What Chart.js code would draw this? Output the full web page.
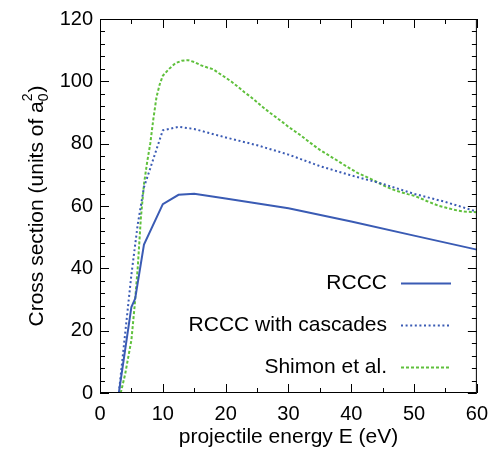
<!DOCTYPE html>
<html>
<head>
<meta charset="utf-8">
<script src="https://cdn.jsdelivr.net/npm/chart.js@4"></script>
<style>
  html, body { margin: 0; padding: 0; background: #fff; }
  #wrap { width: 497px; height: 459px; }
</style>
</head>
<body>
<div id="wrap"><canvas id="chart" width="497" height="459"></canvas></div>
<script>
// Dados
const energiaRccc = [3, 5, 5.6, 7, 10, 12.5, 15, 20, 30, 40, 50, 60];
const secaoRccc = [0, 27.6, 30.3, 47.6, 60.6, 63.6, 63.9, 62.4, 59.3, 55, 50.5, 46];

const energiaCascatas = [3, 5, 6, 7, 10, 12.5, 15, 20, 25, 30, 35, 40, 45, 50, 55, 60];
const secaoCascatas = [0, 38, 54, 66, 84.3, 85.4, 84.7, 82, 79.5, 76.5, 72.8, 69.8, 67.1, 63.9, 61.3, 58.2];

const energiaShimon = [3.3, 4, 5, 5.5, 6, 6.5, 7, 7.5, 8, 8.5, 9, 9.5, 10, 11, 12, 13, 14, 15, 16, 17, 18, 19, 20,
  21, 22, 23, 24, 25, 26, 27, 28, 29, 30, 31, 32, 33, 34, 35, 36, 37, 38, 39, 40,
  41, 42, 43, 44, 45, 46, 47, 48, 49, 50, 51, 52, 53, 54, 55, 56, 57, 58, 59, 60];
const secaoShimon = [0, 6, 17, 27.6, 40, 56, 67, 74, 80, 88, 95, 99, 101.8, 104, 105.8, 106.6, 106.8, 106.2, 105.2, 104.5, 103.9, 102.5, 101.2,
  99.8, 98.2, 96.5, 95, 93.3, 91.6, 90, 88.5, 87, 85.4, 84, 82.6, 81, 79.5, 78, 76.8, 75.5, 74.3, 73, 71.8,
  70.6, 69.7, 68.8, 67.8, 66.7, 65.8, 65, 64.4, 63.8, 63.3, 62.5, 61.6, 60.8, 60, 59.5, 59, 58.5, 58.2, 58.1, 58];

const rotulos = ["RCCC", "RCCC with cascades", "Shimon et al."];
const xMin = 0, xMax = 60, xPasso = 10, xMenor = 5;
const yMin = 0, yMax = 120, yPasso = 20, yMenor = 4;

const AZUL = "#3a5bb4";
const VERDE = "#5fc03c";
const FONTE = "'Liberation Sans', Arial, sans-serif";

function pares(xs, ys) {
  return xs.map((x, i) => ({ x: x, y: ys[i] }));
}

// Moldura, ticks para dentro, título do eixo y e legenda (estilo gnuplot)
const estiloGnuplot = {
  id: "estiloGnuplot",
  afterDatasetsDraw(chart) {
    const ctx = chart.ctx;
    const a = chart.chartArea;
    const sx = chart.scales.x, sy = chart.scales.y;
    ctx.save();
    ctx.strokeStyle = "#000";
    ctx.lineWidth = 1;
    ctx.strokeRect(a.left + 0.5, a.top + 0.5, a.right - a.left - 1, a.bottom - a.top - 1);

    ctx.beginPath();
    for (let v = xMin; v <= xMax; v += xMenor) {
      const p = Math.round(sx.getPixelForValue(v)) + 0.5;
      const len = (v % xPasso === 0) ? 9 : 5;
      ctx.moveTo(p, a.bottom); ctx.lineTo(p, a.bottom - len);
      ctx.moveTo(p, a.top); ctx.lineTo(p, a.top + len);
    }
    for (let v = yMin; v <= yMax; v += yMenor) {
      const p = Math.round(sy.getPixelForValue(v)) + 0.5;
      const len = (v % yPasso === 0) ? 9 : 5;
      ctx.moveTo(a.left, p); ctx.lineTo(a.left + len, p);
      ctx.moveTo(a.right, p); ctx.lineTo(a.right - len, p);
    }
    ctx.stroke();

    // legenda
    ctx.font = "21px " + FONTE;
    ctx.fillStyle = "#000";
    ctx.textAlign = "right";
    ctx.textBaseline = "middle";
    const linhasY = [283, 325, 367];
    chart.data.datasets.forEach((ds, i) => {
      const yy = linhasY[i];
      ctx.fillText(ds.label, 387, yy);
      ctx.beginPath();
      ctx.strokeStyle = ds.borderColor;
      ctx.lineWidth = ds.borderWidth;
      ctx.setLineDash(ds.borderDash || []);
      ctx.moveTo(401, yy + 0.5);
      ctx.lineTo(451, yy + 0.5);
      ctx.stroke();
    });
    ctx.setLineDash([]);

    // título do eixo y com a0^2
    const cy = (a.top + a.bottom) / 2;
    ctx.translate(37, cy);
    ctx.rotate(-Math.PI / 2);
    ctx.fillStyle = "#000";
    ctx.textBaseline = "middle";
    ctx.textAlign = "left";
    const t1 = "Cross section (units of a";
    const fPeq = "14px " + FONTE;
    ctx.font = "21px " + FONTE;
    const w1 = ctx.measureText(t1).width;
    ctx.font = fPeq;
    const wSub = ctx.measureText("2").width;
    ctx.font = "21px " + FONTE;
    const w2 = ctx.measureText(")").width;
    const total = w1 + wSub + 1 + w2;
    let x0 = -total / 2;
    ctx.fillText(t1, x0, 0);
    ctx.font = fPeq;
    ctx.fillText("2", x0 + w1, -9);
    ctx.fillText("0", x0 + w1, 7);
    ctx.font = "21px " + FONTE;
    ctx.fillText(")", x0 + w1 + wSub + 1, 0);
    ctx.restore();
  }
};

new Chart(document.getElementById("chart"), {
  type: "line",
  data: {
    datasets: [
      {
        label: rotulos[0],
        data: pares(energiaRccc, secaoRccc),
        borderColor: AZUL,
        borderWidth: 2,
        pointRadius: 0,
        tension: 0
      },
      {
        label: rotulos[1],
        data: pares(energiaCascatas, secaoCascatas),
        borderColor: AZUL,
        borderWidth: 2,
        borderDash: [2, 2.6],
        pointRadius: 0,
        tension: 0
      },
      {
        label: rotulos[2],
        data: pares(energiaShimon, secaoShimon),
        borderColor: VERDE,
        borderWidth: 2,
        borderDash: [3, 2],
        pointRadius: 0,
        tension: 0
      }
    ]
  },
  options: {
    responsive: false,
    animation: false,
    layout: { padding: { left: 0, right: 20, top: 18, bottom: 0 } },
    plugins: {
      legend: { display: false },
      tooltip: { enabled: false }
    },
    scales: {
      x: {
        type: "linear",
        min: xMin, max: xMax,
        afterFit(s) { s.height = 66; },
        border: { display: false },
        grid: { display: false, drawTicks: false },
        ticks: {
          stepSize: xPasso, color: "#000", padding: 9,
          font: { family: FONTE, size: 20 }
        },
        title: {
          display: true,
          text: "projectile energy E (eV)",
          color: "#000",
          font: { family: FONTE, size: 21 },
          padding: { top: 0, bottom: 9 }
        }
      },
      y: {
        min: yMin, max: yMax,
        afterFit(s) { s.width = 100; },
        border: { display: false },
        grid: { display: false, drawTicks: false },
        ticks: {
          stepSize: yPasso, color: "#000", padding: 7,
          font: { family: FONTE, size: 20 }
        }
      }
    }
  },
  plugins: [estiloGnuplot]
});
</script>
</body>
</html>
